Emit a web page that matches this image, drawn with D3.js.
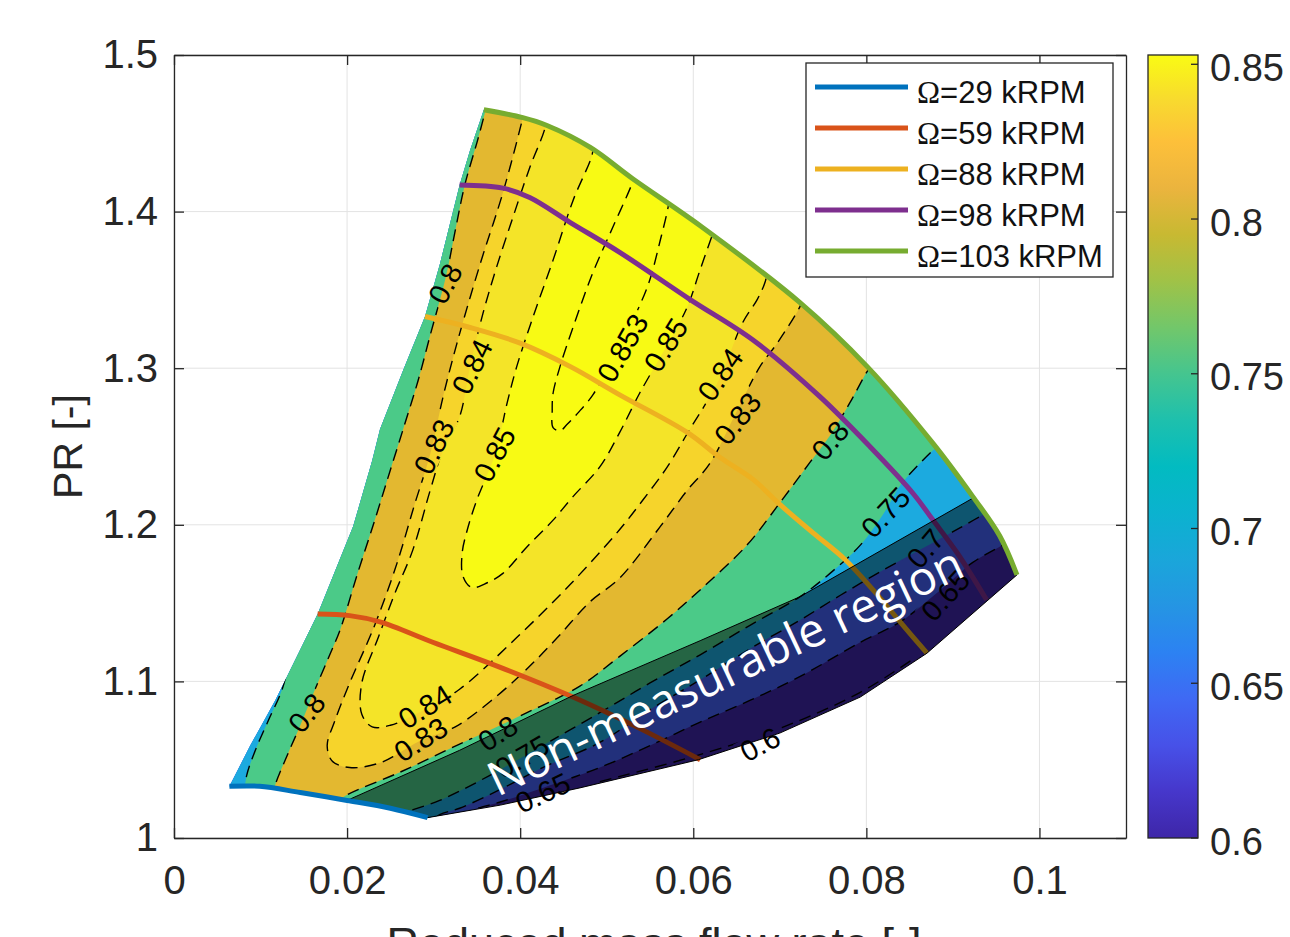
<!DOCTYPE html>
<html>
<head>
<meta charset="utf-8">
<script src="https://cdn.jsdelivr.net/npm/d3@7.9.0/dist/d3.min.js"></script>
<style>
  body { margin: 0; background: #fff; }
  svg { display: block; font-family: "Liberation Sans", Arial, Helvetica, sans-serif; }
</style>
</head>
<body>
<svg id="chart"></svg>
<script>
// ---- values (x: reduced mass flow rate, y: PR) ----
const xTicks = [0, 0.02, 0.04, 0.06, 0.08, 0.1];
const yTicks = [1, 1.1, 1.2, 1.3, 1.4, 1.5];
const cbarTicks = [0.6, 0.65, 0.7, 0.75, 0.8, 0.85];

// speed lines
const speeds = [29, 59, 88, 98, 103];
const speed29 = [[0.0064,1.033],[0.0099,1.033],[0.0146,1.029],[0.0200,1.024],[0.0250,1.019],[0.0293,1.013]];
const speed59 = [[0.0166,1.143],[0.0203,1.142],[0.0238,1.138],[0.0299,1.125],[0.0377,1.109],[0.0461,1.090],[0.0538,1.070],[0.0608,1.050]];
const speed88 = [[0.0290,1.333],[0.0342,1.326],[0.0400,1.316],[0.0458,1.301],[0.0515,1.283],[0.0593,1.259],[0.0631,1.243],[0.0669,1.229],[0.0700,1.213],[0.0738,1.195],[0.0775,1.178],[0.0810,1.157],[0.0839,1.138],[0.0870,1.118]];
const speed98 = [[0.0330,1.417],[0.0380,1.415],[0.0411,1.409],[0.0458,1.393],[0.0515,1.374],[0.0596,1.344],[0.0669,1.318],[0.0746,1.282],[0.0804,1.250],[0.0854,1.220],[0.0877,1.203],[0.0905,1.182],[0.0939,1.152]];
const speed103 = [[0.0358,1.465],[0.0403,1.460],[0.0431,1.455],[0.0481,1.441],[0.0530,1.421],[0.0608,1.391],[0.0723,1.342],[0.0801,1.301],[0.0877,1.252],[0.0923,1.218],[0.0954,1.193],[0.0974,1.168]];

// left (surge) and right (choke) limits of the map
const surge = [[0.0064,1.033],[0.0088,1.059],[0.0117,1.088],[0.0134,1.107],[0.0166,1.143],[0.0207,1.199],[0.0229,1.241],[0.0238,1.261],[0.0265,1.299],[0.0290,1.333],[0.0307,1.366],[0.0330,1.417],[0.0342,1.439],[0.0358,1.465]];
const choke = [[0.0974,1.168],[0.0870,1.118],[0.0793,1.090],[0.0700,1.067],[0.0606,1.050],[0.0469,1.032],[0.0377,1.021],[0.0293,1.013]];

// upper edge of the non-measurable region
const nonMeasurable = [[0.0200,1.024],[0.0330,1.056],[0.0461,1.091],[0.0608,1.126],[0.0723,1.154],[0.0923,1.217]];

// efficiency iso-lines
const effLevels = [0.65, 0.7, 0.75, 0.8, 0.83, 0.84, 0.85, 0.853];
const eff60 = [[0.0492,1.036],[0.0600,1.052],[0.0700,1.070],[0.0793,1.093],[0.0856,1.115]];
const eff65 = [[0.0968,1.190],[0.0923,1.176],[0.0889,1.160],[0.0839,1.138],[0.0793,1.125],[0.0723,1.103],[0.0666,1.088],[0.0608,1.074],[0.0550,1.059],[0.0492,1.045],[0.0426,1.032],[0.0377,1.023],[0.0342,1.017],[0.0330,1.011]];
const eff70 = [[0.0949,1.211],[0.0908,1.198],[0.0865,1.185],[0.0816,1.170],[0.0770,1.155],[0.0723,1.139],[0.0666,1.121],[0.0608,1.101],[0.0550,1.082],[0.0492,1.061],[0.0426,1.045],[0.0377,1.031],[0.0330,1.019],[0.0307,1.015],[0.0296,1.010]];
const eff75a = [[0.0134,1.114],[0.0125,1.095],[0.0109,1.075],[0.0094,1.056],[0.0084,1.040],[0.0080,1.024]];
const eff75b = [[0.0891,1.254],[0.0874,1.246],[0.0839,1.225],[0.0822,1.209],[0.0793,1.187],[0.0758,1.169],[0.0723,1.154],[0.0666,1.136],[0.0608,1.117],[0.0550,1.099],[0.0492,1.080],[0.0426,1.059],[0.0365,1.040],[0.0307,1.024],[0.0261,1.015],[0.0250,1.011]];
const eff80a = [[0.0363,1.471],[0.0351,1.446],[0.0336,1.417],[0.0325,1.388],[0.0314,1.358],[0.0296,1.321],[0.0282,1.292],[0.0267,1.265],[0.0250,1.235],[0.0232,1.203],[0.0211,1.167],[0.0192,1.133],[0.0180,1.117],[0.0163,1.095],[0.0146,1.072],[0.0131,1.053],[0.0117,1.034],[0.0113,1.024]];
const eff80b = [[0.0183,1.021],[0.0198,1.027],[0.0261,1.042],[0.0330,1.060],[0.0400,1.078],[0.0469,1.097],[0.0515,1.116],[0.0570,1.140],[0.0611,1.160],[0.0662,1.187],[0.0700,1.214],[0.0735,1.240],[0.0758,1.257],[0.0781,1.278],[0.0801,1.298],[0.0810,1.305]];
const eff83 = [[0.0406,1.468],[0.0403,1.460],[0.0380,1.412],[0.0354,1.367],[0.0327,1.316],[0.0311,1.282],[0.0296,1.245],[0.0278,1.213],[0.0258,1.176],[0.0232,1.136],[0.0203,1.099],[0.0186,1.075],[0.0177,1.059],[0.0183,1.049],[0.0203,1.045],[0.0238,1.048],[0.0284,1.062],[0.0325,1.071],[0.0365,1.087],[0.0406,1.107],[0.0443,1.128],[0.0481,1.151],[0.0515,1.166],[0.0562,1.199],[0.0593,1.222],[0.0619,1.239],[0.0648,1.270],[0.0677,1.301],[0.0697,1.316],[0.0723,1.339],[0.0729,1.347]];
const eff84 = [[0.0431,1.464],[0.0429,1.454],[0.0411,1.428],[0.0392,1.397],[0.0373,1.365],[0.0357,1.335],[0.0342,1.301],[0.0330,1.269],[0.0311,1.248],[0.0296,1.222],[0.0276,1.184],[0.0255,1.156],[0.0236,1.128],[0.0217,1.099],[0.0217,1.079],[0.0229,1.071],[0.0250,1.072],[0.0290,1.082],[0.0330,1.095],[0.0396,1.128],[0.0458,1.162],[0.0515,1.197],[0.0542,1.216],[0.0570,1.237],[0.0596,1.261],[0.0614,1.277],[0.0631,1.294],[0.0657,1.329],[0.0674,1.344],[0.0683,1.355],[0.0686,1.364]];
const eff85 = [[0.0485,1.444],[0.0483,1.436],[0.0461,1.407],[0.0438,1.369],[0.0415,1.333],[0.0396,1.301],[0.0385,1.278],[0.0371,1.245],[0.0350,1.216],[0.0339,1.197],[0.0333,1.182],[0.0334,1.167],[0.0344,1.160],[0.0362,1.163],[0.0380,1.169],[0.0408,1.186],[0.0438,1.203],[0.0461,1.218],[0.0492,1.237],[0.0515,1.259],[0.0538,1.284],[0.0570,1.315],[0.0593,1.339],[0.0608,1.363],[0.0622,1.385],[0.0626,1.391]];
const eff853 = [[0.0534,1.427],[0.0530,1.419],[0.0507,1.390],[0.0484,1.361],[0.0461,1.326],[0.0446,1.301],[0.0438,1.284],[0.0437,1.273],[0.0438,1.262],[0.0446,1.260],[0.0454,1.264],[0.0466,1.271],[0.0484,1.283],[0.0515,1.314],[0.0547,1.352],[0.0562,1.382],[0.0571,1.403],[0.0573,1.411]];

// inline labels: [value, x, y]
const contourLabels = [
  [0.8, 0.0313, 1.354], [0.84, 0.0344, 1.301], [0.83, 0.0300, 1.250], [0.85, 0.0370, 1.245],
  [0.853, 0.0518, 1.313], [0.85, 0.0568, 1.315], [0.84, 0.0631, 1.296], [0.83, 0.0651, 1.268],
  [0.8, 0.0758, 1.254], [0.75, 0.0822, 1.208], [0.7, 0.0868, 1.185], [0.65, 0.0891, 1.155],
  [0.8, 0.0153, 1.080], [0.84, 0.0290, 1.084], [0.83, 0.0285, 1.063], [0.8, 0.0374, 1.067],
  [0.75, 0.0402, 1.052], [0.65, 0.0426, 1.029], [0.6, 0.0677, 1.060]
];
const regionLabel = [0.0645, 1.097];

// ---- styles ----
const labelAngles = [-62, -64, -64, -62, -60, -58, -55, -52, -50, -47, -50, -48, -52, -32, -32, -33, -30, -25, -28];
const speedColors = ["#0072BD", "#D95319", "#EDB120", "#7E2F8E", "#77AC30"];
const baseColor = "#3E26A8";
const bandColors = ["#4561F6", "#1CAADF", "#4BCA88", "#E3B830", "#F6D42B", "#F4E428", "#F8FA14", "#F9FB12"];
const cmapStops = [
  [0.600, "#3E26A8"], [0.615, "#4637CB"], [0.630, "#4751E8"], [0.645, "#3F69F4"], [0.660, "#2C82F2"],
  [0.675, "#2595E3"], [0.690, "#1AA6DA"], [0.705, "#0BB2CF"], [0.720, "#02BBC1"], [0.735, "#1EC0AD"],
  [0.750, "#45C58F"], [0.765, "#72C76A"], [0.780, "#A0C247"], [0.795, "#C8B932"], [0.810, "#EBB43E"],
  [0.825, "#FDC03A"], [0.838, "#F8D92F"], [0.853, "#F9FB14"]
];
const axisColor = "#262626";
const fontSans = "Liberation Sans, Arial, Helvetica, sans-serif";

const width = 1290;
const height = 937;

const svg = d3.select("#chart").attr("width", width).attr("height", height);

const x = d3.scaleLinear().domain([0, 0.11]).range([174, 1126]);
const y = d3.scaleLinear().domain([1, 1.5]).range([838, 55]);
const cb = d3.scaleLinear().domain([0.6, 0.853]).range([838, 55]);

// points just outside the plot, used to close the filled regions
const [X_LO, X_HI] = [-0.005, 0.115];
const [Y_LO, Y_HI] = [0.98, 1.52];

const smooth = d3.line().x(d => x(d[0])).y(d => y(d[1])).curve(d3.curveCatmullRom.alpha(0.5));
const straight = d3.line().x(d => x(d[0])).y(d => y(d[1]));

function regionPath(parts) {
    return parts.map((p, i) => {
        const s = p.c ? smooth(p.c) : p.l.map(d => `L${x(d[0])},${y(d[1])}`).join("");
        return i === 0 ? s : s.replace(/^M/, "L");
    }).join("") + "Z";
}

const rev = a => a.slice().reverse();
const domainPath = regionPath([{c: speed103}, {l: choke}, {c: rev(speed29)}, {l: surge}]);

// superlevel regions, painted from low to high
const closeTop = a => ({l: [[a[a.length - 1][0], Y_HI], [a[0][0], Y_HI]]});
const bands = [
    [{c: eff65}, {l: [[eff65[eff65.length - 1][0], Y_LO], [X_LO, Y_LO], [X_LO, Y_HI], [X_HI, Y_HI], [X_HI, eff65[0][1]]]}],
    [{c: eff70}, {l: [[eff70[eff70.length - 1][0], Y_LO], [X_LO, Y_LO], [X_LO, Y_HI], [X_HI, Y_HI], [X_HI, eff70[0][1]]]}],
    [{c: eff75a}, {l: [[eff75a[eff75a.length - 1][0], Y_LO], [eff75b[eff75b.length - 1][0], Y_LO]]}, {c: rev(eff75b)},
     {l: [[eff75b[0][0], Y_HI], [X_LO, Y_HI], [X_LO, eff75a[0][1]]]}],
    [{c: eff80a}, {l: [[eff80a[eff80a.length - 1][0], Y_LO], [eff80b[0][0], Y_LO]]}, {c: eff80b},
     {l: [[eff80b[eff80b.length - 1][0], Y_HI], [eff80a[0][0], Y_HI]]}],
    [{c: eff83}, closeTop(eff83)],
    [{c: eff84}, closeTop(eff84)],
    [{c: eff85}, closeTop(eff85)],
    [{c: eff853}, closeTop(eff853)]
];
const isoLines = [eff60, eff65, eff70, eff75a, eff75b, eff80a, eff80b, eff83, eff84, eff85, eff853];

const defs = svg.append("defs");
defs.append("clipPath").attr("id", "domain").append("path").attr("d", domainPath);
const gapMask = defs.append("mask").attr("id", "gaps").attr("maskUnits", "userSpaceOnUse")
    .attr("x", 0).attr("y", 0).attr("width", width).attr("height", height);
gapMask.append("rect").attr("width", width).attr("height", height).attr("fill", "#fff");

// grid
const grid = svg.append("g").attr("stroke", "#e3e3e3").attr("stroke-width", 1);
grid.selectAll("line.gx").data(xTicks).join("line").attr("class", "gx")
    .attr("x1", d => x(d)).attr("x2", d => x(d)).attr("y1", y(1)).attr("y2", y(1.5));
grid.selectAll("line.gy").data(yTicks).join("line").attr("class", "gy")
    .attr("y1", d => y(d)).attr("y2", d => y(d)).attr("x1", x(0)).attr("x2", x(0.11));

// filled efficiency map
const map = svg.append("g").attr("clip-path", "url(#domain)");
map.append("path").attr("d", domainPath).attr("fill", baseColor);
map.selectAll("path.band").data(bands).join("path").attr("class", "band")
    .attr("d", regionPath).attr("fill", (d, i) => bandColors[i]);

// dashed iso-lines with gaps for labels
svg.append("g").attr("clip-path", "url(#domain)")
    .append("g").attr("mask", "url(#gaps)")
    .selectAll("path").data(isoLines).join("path")
    .attr("d", smooth).attr("fill", "none").attr("stroke", "#000")
    .attr("stroke-width", 1.4).attr("stroke-dasharray", "12 7");

// speed lines under the shaded region
const speedData = [speed29, speed59, speed88, speed98, speed103];
const lineG = svg.append("g").attr("fill", "none").attr("stroke-width", 5).attr("stroke-linecap", "butt");
[1, 2, 3].forEach(i => {
    lineG.append("path").attr("d", smooth(speedData[i])).attr("stroke", speedColors[i]);
});

// non-measurable region
const overlayPts = nonMeasurable.concat(speed103.slice(-2), choke.slice(1), rev(speed29.slice(3, 5)));
svg.append("path").attr("d", straight(overlayPts) + "Z")
    .attr("fill", "#000").attr("fill-opacity", 0.5)
    .attr("stroke", "#000").attr("stroke-width", 1);

const topLines = svg.append("g").attr("fill", "none").attr("stroke-width", 5);
[0, 4].forEach(i => {
    topLines.append("path").attr("d", smooth(speedData[i])).attr("stroke", speedColors[i]);
});

// contour labels
const labelG = svg.append("g").attr("font-size", 29).attr("font-family", fontSans).attr("fill", "#000");
const labelTransform = (d, i) => `translate(${x(d[1])},${y(d[2])}) rotate(${labelAngles[i]})`;
labelG.selectAll("text").data(contourLabels).join("text")
    .attr("transform", labelTransform)
    .attr("text-anchor", "middle").attr("dy", "0.36em")
    .text(d => String(d[0]))
    .each(function(d, i) {
        const w = this.getComputedTextLength();
        gapMask.append("rect")
            .attr("x", -w / 2 - 4).attr("y", -12).attr("width", w + 8).attr("height", 24)
            .attr("transform", labelTransform(d, i)).attr("fill", "#000");
    });

svg.append("text")
    .attr("transform", `translate(${x(regionLabel[0])},${y(regionLabel[1])}) rotate(-25.3)`)
    .attr("text-anchor", "middle")
    .attr("font-family", "'Open Sans', sans-serif").attr("font-size", 47).attr("fill", "#fff")
    .text("Non-measurable region");

// axes (box with inward ticks)
const fmtX = d => String(+d.toFixed(2));
const fmtY = d => String(+d.toFixed(1));
function styleAxis(g) {
    g.attr("color", axisColor).attr("font-size", 40).attr("font-family", fontSans);
    g.select(".domain").attr("stroke-width", 1.3);
    g.selectAll(".tick line").attr("stroke-width", 1.3);
    g.selectAll("text").attr("fill", axisColor);
}
svg.append("g").attr("transform", `translate(0,${y(1)})`)
    .call(d3.axisBottom(x).tickValues(xTicks).tickSizeInner(-10).tickSizeOuter(0).tickPadding(28).tickFormat(fmtX))
    .call(styleAxis);
svg.append("g").attr("transform", `translate(0,${y(1.5)})`)
    .call(d3.axisTop(x).tickValues(xTicks).tickSizeInner(-10).tickSizeOuter(0).tickFormat(""))
    .call(styleAxis);
svg.append("g").attr("transform", `translate(${x(0)},0)`)
    .call(d3.axisLeft(y).tickValues(yTicks).tickSizeInner(-10).tickSizeOuter(0).tickPadding(16).tickFormat(fmtY))
    .call(styleAxis);
svg.append("g").attr("transform", `translate(${x(0.11)},0)`)
    .call(d3.axisRight(y).tickValues(yTicks).tickSizeInner(-10).tickSizeOuter(0).tickFormat(""))
    .call(styleAxis);

// x title sits partly below the picture edge, as in the original figure
svg.append("text")
    .attr("x", (x(0) + x(0.11)) / 2 + 4).attr("y", 959)
    .attr("text-anchor", "middle").attr("font-size", 45).attr("fill", axisColor)
    .text("Reduced mass flow rate [-]");
svg.append("text")
    .attr("transform", `translate(82,${(y(1) + y(1.5)) / 2}) rotate(-90)`)
    .attr("text-anchor", "middle").attr("font-size", 41).attr("fill", axisColor)
    .text("PR [-]");

// legend
const legend = svg.append("g").attr("transform", "translate(806,63)");
legend.append("rect").attr("width", 307).attr("height", 214)
    .attr("fill", "#fff").attr("stroke", axisColor).attr("stroke-width", 1.3);
const rows = legend.selectAll("g.row").data(speeds).join("g").attr("class", "row")
    .attr("transform", (d, i) => `translate(0,${24 + i * 41})`);
rows.append("line").attr("x1", 9).attr("x2", 102)
    .attr("stroke", (d, i) => speedColors[i]).attr("stroke-width", 5);
const rowText = rows.append("text").attr("x", 111).attr("y", 16).attr("font-size", 31).attr("fill", "#111");
rowText.append("tspan").attr("font-family", "'Liberation Serif', 'Times New Roman', serif").text("Ω");
rowText.append("tspan").text(d => `=${d} kRPM`);

// colorbar
const grad = defs.append("linearGradient").attr("id", "parula")
    .attr("x1", 0).attr("y1", 1).attr("x2", 0).attr("y2", 0);
grad.selectAll("stop").data(cmapStops).join("stop")
    .attr("offset", d => (d[0] - 0.6) / (0.853 - 0.6))
    .attr("stop-color", d => d[1]);
svg.append("rect").attr("x", 1148).attr("y", cb(0.853)).attr("width", 50).attr("height", cb(0.6) - cb(0.853))
    .attr("fill", "url(#parula)").attr("stroke", axisColor).attr("stroke-width", 1.3);
svg.append("g").selectAll("line").data(cbarTicks).join("line")
    .attr("x1", 1198).attr("x2", 1191).attr("y1", d => cb(d)).attr("y2", d => cb(d))
    .attr("stroke", axisColor).attr("stroke-width", 1.3);
svg.append("g").selectAll("text").data(cbarTicks).join("text")
    .attr("x", 1210).attr("y", d => cb(d) + 3).attr("dy", "0.36em")
    .attr("font-size", 38).attr("fill", axisColor)
    .text(d => String(d));
</script>
</body>
</html>
